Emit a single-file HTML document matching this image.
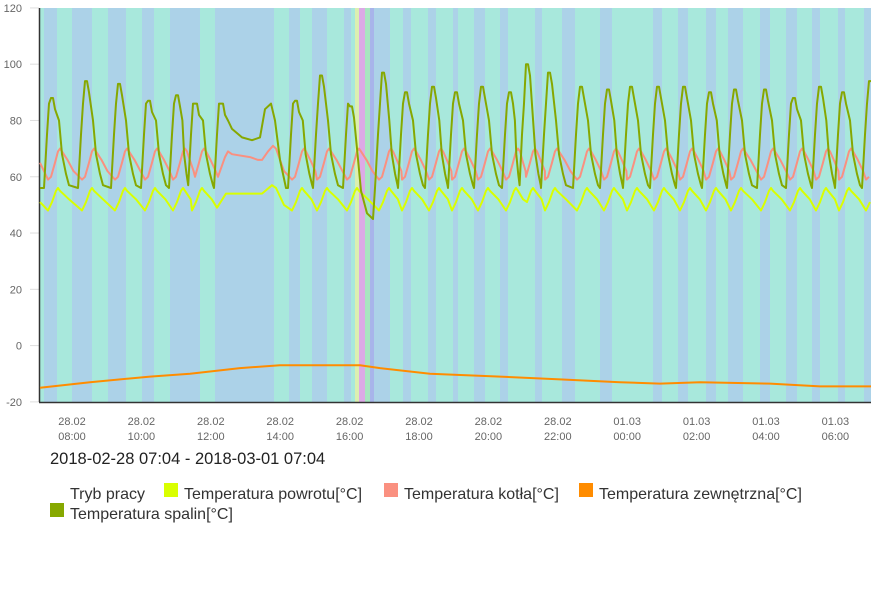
<!DOCTYPE html>
<html><head><meta charset="utf-8"><style>
body{margin:0;background:#fff;width:887px;height:594px;overflow:hidden;font-family:"Liberation Sans",sans-serif}
svg{position:absolute;left:0;top:0}
</style></head><body>
<svg id="s" width="887" height="594" xmlns="http://www.w3.org/2000/svg" font-family="Liberation Sans, sans-serif">
<g id="bg"></g>
<g id="ax"></g>
<g id="lines" fill="none" stroke-linejoin="round"></g>
<text x="50" y="464" font-size="16.5" fill="#222">2018-02-28 07:04 - 2018-03-01 07:04</text>
<text x="70" y="499" font-size="16" fill="#333">Tryb pracy</text>
<rect x="164" y="483" width="14" height="14" fill="#d9ff00"/>
<text x="184" y="499" font-size="16" fill="#333">Temperatura powrotu[°C]</text>
<rect x="384" y="483" width="14" height="14" fill="#fa9080"/>
<text x="404" y="499" font-size="16" fill="#333">Temperatura kotła[°C]</text>
<rect x="579" y="483" width="14" height="14" fill="#ff8c00"/>
<text x="599" y="499" font-size="16" fill="#333">Temperatura zewnętrzna[°C]</text>
<rect x="50" y="503" width="14" height="14" fill="#86a800"/>
<text x="70" y="519" font-size="16" fill="#333">Temperatura spalin[°C]</text>
</svg>
<script>
var NS="http://www.w3.org/2000/svg";
function el(p,t,a){var e=document.createElementNS(NS,t);for(var k in a)e.setAttribute(k,a[k]);p.appendChild(e);return e;}
var bg=document.getElementById('bg'),ax=document.getElementById('ax'),ln=document.getElementById('lines');
var B="#acd2e8",C="#a8e8dc";
el(bg,'rect',{x:39,y:8,width:832,height:394,fill:C});
var blues=[[44,57],[72,92],[108,126],[142,154],[170,200],[215,274],[289,300],[312,327],[344,351],[374,390],[403,411],[428,436],[453,458],[474,485],[500,508],[535,542],[562,575],[600,612],[653,662],[678,688],[706,716],[728,743],[760,770],[786,797],[812,820],[838,845],[864,871]];
blues.forEach(function(b){el(bg,'rect',{x:b[0],y:8,width:b[1]-b[0],height:394,fill:B});});
el(bg,'rect',{x:355,y:8,width:4,height:394,fill:"#dcefb0"});
el(bg,'rect',{x:359,y:8,width:6,height:394,fill:"#dcaae6"});
el(bg,'rect',{x:365,y:8,width:5,height:394,fill:"#a8e6c0"});
el(bg,'rect',{x:370,y:8,width:4,height:394,fill:"#a8b4ea"});
function Y(v){return 345.6-v*2.814;}
for(var v=-20;v<=120;v+=20){var y=Y(v);
 el(ax,'line',{x1:30,y1:y,x2:39,y2:y,stroke:"#ddd"});
 var t=el(ax,'text',{x:22,y:y+4,'font-size':11,fill:"#666",'text-anchor':'end'});t.textContent=v;}
el(ax,'line',{x1:39.5,y1:8,x2:39.5,y2:402,stroke:"#333",'stroke-width':1.5});
el(ax,'line',{x1:39,y1:402.5,x2:871,y2:402.5,stroke:"#333",'stroke-width':1.5});
var labs=[["28.02","08:00"],["28.02","10:00"],["28.02","12:00"],["28.02","14:00"],["28.02","16:00"],["28.02","18:00"],["28.02","20:00"],["28.02","22:00"],["01.03","00:00"],["01.03","02:00"],["01.03","04:00"],["01.03","06:00"]];
labs.forEach(function(l,i){var x=72+i*69.4;
 var a=el(ax,'text',{x:x,y:425,'font-size':11,fill:"#666",'text-anchor':'middle'});a.textContent=l[0];
 var b=el(ax,'text',{x:x,y:440,'font-size':11,fill:"#666",'text-anchor':'middle'});b.textContent=l[1];});
var peaks=[[52,88],[86,94],[119,93],[149,87],[177,89],[196,86],[222,86],[271,86],[296,87],[321,96],[351,85],[383,97],[406,90],[433,92],[456,90],[482,92],[510,90],[527,100],[549,97],[581,92],[608,91],[631,92],[658,92],[684,92],[710,90],[735,91],[765,91],[794,88],[820,92],[843,90],[870,94]];
var sp=[[40,56]],ko=[[40,65]],po=[[40,51]];
peaks.forEach(function(p,i){var x=p[0],h=p[1];
 var nx=(i+1<peaks.length)?peaks[i+1][0]:900, gap=nx-x;
 if(x===271){sp.push([265,84],[271,86],[275,80],[280,66],[286,56]);
  ko.push([262,66],[268,69],[273,71],[276,70],[284,62]);po.push([262,54],[272,57],[276,56],[284,50]);return;}
 var t=(x===196)?55:56;
 sp.push([x-8,t],[x-5,75],[x-3,86],[x-1,h],[x+1,h],[x+3,h-4]);
 if(x===222){sp.push([x+6,80],[232,77],[242,74],[252,73],[260,74]);ko.push([x-4,60],[x+3,67],[x+6,69],[x+10,68],[250,67],[258,66]);po.push([x-5,49],[x+4,54],[x+10,54],[255,54]);return;}
 if(x===351){sp.push([x+6,70],[x+10,55],[x+16,47],[x+22,45]);}
 else{var f=Math.min(1,(gap-9)/17);
  sp.push([x+3+4*f,80],[x+3+7*f,68],[x+3+11*f,61],[x+3+14*f,57]);}
 var g=Math.min(gap,30);
 ko.push([x-4,59],[x-1,60],[x+3,65],[x+6,69],[x+8,70],[x+10,69],[x+8+g*0.25,66],[x+8+g*0.45,62]);
 po.push([x-4,48],[x,51],[x+4,55],[x+6,56],[x+8,55],[x+8+g*0.3,52]);
});
function clean(a){a=a.filter(function(p){return p[0]<=871;});var o=[];a.forEach(function(p){if(!o.length||p[0]>o[o.length-1][0])o.push(p);});return o;}
sp=clean(sp);ko=clean(ko);po=clean(po);
var ze=[[40,-15],[90,-13],[150,-11],[190,-10],[240,-8],[280,-7],[360,-7],[380,-8],[430,-10],[500,-11],[560,-12],[620,-13],[660,-13.5],[700,-13],[770,-13.5],[820,-14.5],[871,-14.5]];
function draw(pts,col,w){el(ln,'polyline',{points:pts.map(function(p){return p[0].toFixed(1)+','+Y(p[1]).toFixed(1);}).join(' '),stroke:col,'stroke-width':w});}
draw(ze,"#ff8c00",2);
draw(ko,"#fa9080",2);
draw(po,"#d9ff00",2);
draw(sp,"#86a800",2);
</script>
</body></html>
